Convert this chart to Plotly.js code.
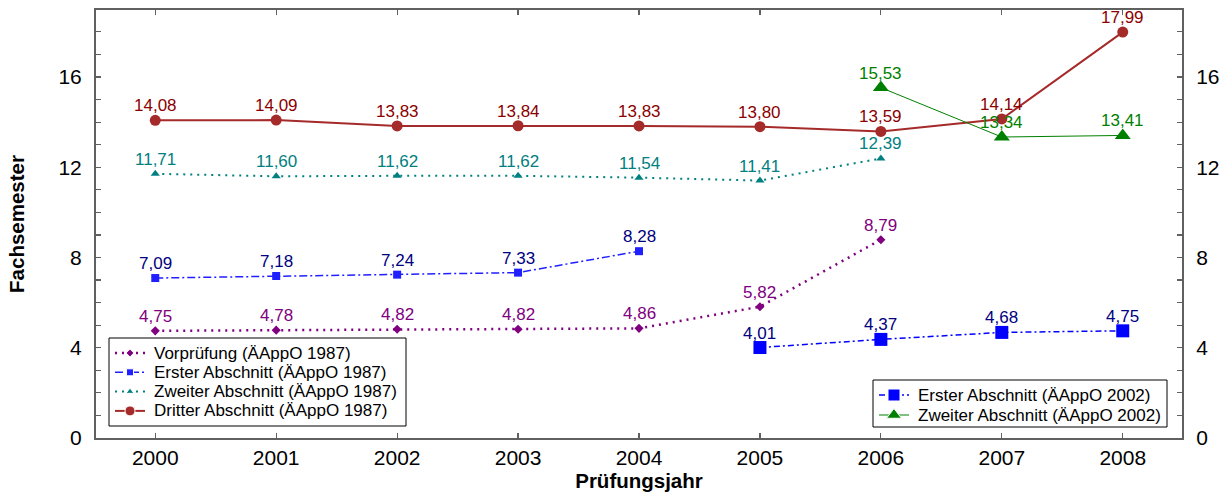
<!DOCTYPE html>
<html><head><meta charset="utf-8">
<script src="https://cdn.plot.ly/plotly-3.0.1.min.js"></script>
<style>html,body{margin:0;padding:0;background:#fff}#c{width:1229px;height:504px}</style>
</head><body><div id="c"></div>
<script>
// ---- data ----
const yearsVor = [2000,2001,2002,2003,2004,2005,2006];
const vorpruefung = [4.75,4.78,4.82,4.82,4.86,5.82,8.79];
const yearsE87 = [2000,2001,2002,2003,2004];
const erster1987 = [7.09,7.18,7.24,7.33,8.28];
const yearsZ87 = [2000,2001,2002,2003,2004,2005,2006];
const zweiter1987 = [11.71,11.60,11.62,11.62,11.54,11.41,12.39];
const yearsD87 = [2000,2001,2002,2003,2004,2005,2006,2007,2008];
const dritter1987 = [14.08,14.09,13.83,13.84,13.83,13.80,13.59,14.14,17.99];
const yearsE02 = [2005,2006,2007,2008];
const erster2002 = [4.01,4.37,4.68,4.75];
const yearsZ02 = [2006,2007,2008];
const zweiter2002 = [15.53,13.34,13.41];
const xTicks = [2000,2001,2002,2003,2004,2005,2006,2007,2008];
const seriesNames = ['Vorprüfung (ÄAppO 1987)','Erster Abschnitt (ÄAppO 1987)','Zweiter Abschnitt (ÄAppO 1987)',
  'Dritter Abschnitt (ÄAppO 1987)','Erster Abschnitt (ÄAppO 2002)','Zweiter Abschnitt (ÄAppO 2002)'];

const fmt = v => v.toFixed(2).replace('.', ',');
const FONT = 'Liberation Sans, Arial, sans-serif';

const series = [
  {x:yearsVor, y:vorpruefung, color:'#800080', tc:'#800080', dash:'2px,5px', w:2.5, sym:'diamond', ms:7},
  {x:yearsE87, y:erster1987, color:'#2020FF', tc:'#000080', dash:'8px,3px,2px,3px', w:1.5, sym:'square', ms:8},
  {x:yearsZ87, y:zweiter1987, color:'#008080', tc:'#008080', dash:'2px,5px', w:2, sym:'triangle-up', ms:8},
  {x:yearsD87, y:dritter1987, color:'#A52A2A', tc:'#8B0000', dash:'solid', w:2, sym:'circle', ms:11},
  {x:yearsE02, y:erster2002, color:'#0000FF', tc:'#000080', dash:'6px,3px,2px,3px', w:1.5, sym:'square', ms:13},
  {x:yearsZ02, y:zweiter2002, color:'#008000', tc:'#008000', dash:'solid', w:1, sym:'triangle-up', ms:14}
];

const data = [];
const annotations = [];
series.forEach((s, i) => {
  data.push({type:'scatter', mode:'lines+markers', name:seriesNames[i], x:s.x, y:s.y, showlegend:false,
    line:{color:s.color, dash:s.dash, width:s.w}, marker:{symbol:s.sym, size:s.ms, color:s.color, opacity:1}});
  s.x.forEach((xv, k) => annotations.push({x:xv, y:s.y[k], xref:'x', yref:'y', text:fmt(s.y[k]),
    showarrow:false, yanchor:'bottom', xanchor:'center', yshift:4, borderpad:0,
    font:{family:FONT, size:17, color:s.tc}}));
});

// dummy trace so the right-hand mirrored axis is drawn
data.push({type:'scatter', x:[2000], y:[0], yaxis:'y2', mode:'markers', marker:{opacity:0}, showlegend:false, hoverinfo:'skip'});

// ---- legends (drawn on a hidden pixel-scaled overlay axis) ----
const PLOT = {l:96, t:10, w:1086, h:428};
const legends = [
  {x:109, y:338, w:297, h:88, row0:15, rowH:19.3, items:[0,1,2,3]},
  {x:873, y:380, w:294, h:47, row0:15, rowH:20, items:[4,5]}
];
legends.forEach(L => {
  data.push({type:'scatter', xaxis:'x3', yaxis:'y3', mode:'lines', showlegend:false, hoverinfo:'skip',
    x:[L.x, L.x+L.w, L.x+L.w, L.x, L.x], y:[L.y, L.y, L.y+L.h, L.y+L.h, L.y],
    fill:'toself', fillcolor:'#fff', line:{color:'#000', width:1}});
  L.items.forEach((idx, r) => {
    const s = series[idx];
    const cy = L.y + L.row0 + r*L.rowH;
    data.push({type:'scatter', xaxis:'x3', yaxis:'y3', mode:'lines+markers', showlegend:false, hoverinfo:'skip',
      x:[L.x+6, L.x+21, L.x+36], y:[cy, cy, cy],
      line:{color:s.color, dash:s.dash, width:s.w},
      marker:{symbol:s.sym, size:[0, s.ms-1, 0], color:s.color, opacity:1}});
    annotations.push({x:L.x+43, y:cy, xref:'x3', yref:'y3', text:seriesNames[idx], showarrow:false,
      xanchor:'left', yanchor:'middle', font:{family:FONT, size:17, color:'#000'}});
  });
});

const axCommon = {showgrid:false, zeroline:false, showline:true, linecolor:'#606060', linewidth:2,
  ticks:'inside', ticklen:5, tickcolor:'#606060', tickwidth:1.2,
  tickfont:{family:FONT, size:21, color:'#000'}};

const layout = {
  width:1229, height:504,
  margin:{l:PLOT.l, r:1229-PLOT.l-PLOT.w, t:PLOT.t, b:504-PLOT.t-PLOT.h},
  paper_bgcolor:'#fff', plot_bgcolor:'#fff',
  font:{family:FONT, color:'#000'},
  showlegend:false,
  xaxis:Object.assign({}, axCommon, {range:[1999.51,2008.49], tickvals:xTicks, ticktext:xTicks.map(String),
    mirror:'ticks', ticklabelstandoff:0, automargin:false,
    title:{text:'Prüfungsjahr', font:{family:FONT, size:20.5, weight:'bold'}, standoff:2}}),
  yaxis:Object.assign({}, axCommon, {range:[0,18.97], tickmode:'linear', tick0:0, dtick:4, mirror:'ticks',
    ticklabelstandoff:8, automargin:false,
    minor:{tickmode:'linear', tick0:0, dtick:1, ticks:'inside', ticklen:5, tickcolor:'#606060', tickwidth:1.2},
    title:{text:'Fachsemester', font:{family:FONT, size:20.5, weight:'bold'}, standoff:28}}),
  yaxis2:Object.assign({}, axCommon, {overlaying:'y', side:'right', matches:'y', range:[0,18.97],
    tickmode:'linear', tick0:0, dtick:4, ticklabelstandoff:8, automargin:false}),
  xaxis3:{overlaying:'x', range:[PLOT.l, PLOT.l+PLOT.w], visible:false, fixedrange:true},
  yaxis3:{overlaying:'y', range:[PLOT.t+PLOT.h, PLOT.t], visible:false, fixedrange:true},
  annotations:annotations
};

Plotly.newPlot('c', data, layout, {displayModeBar:false, staticPlot:true});
</script>
</body></html>
